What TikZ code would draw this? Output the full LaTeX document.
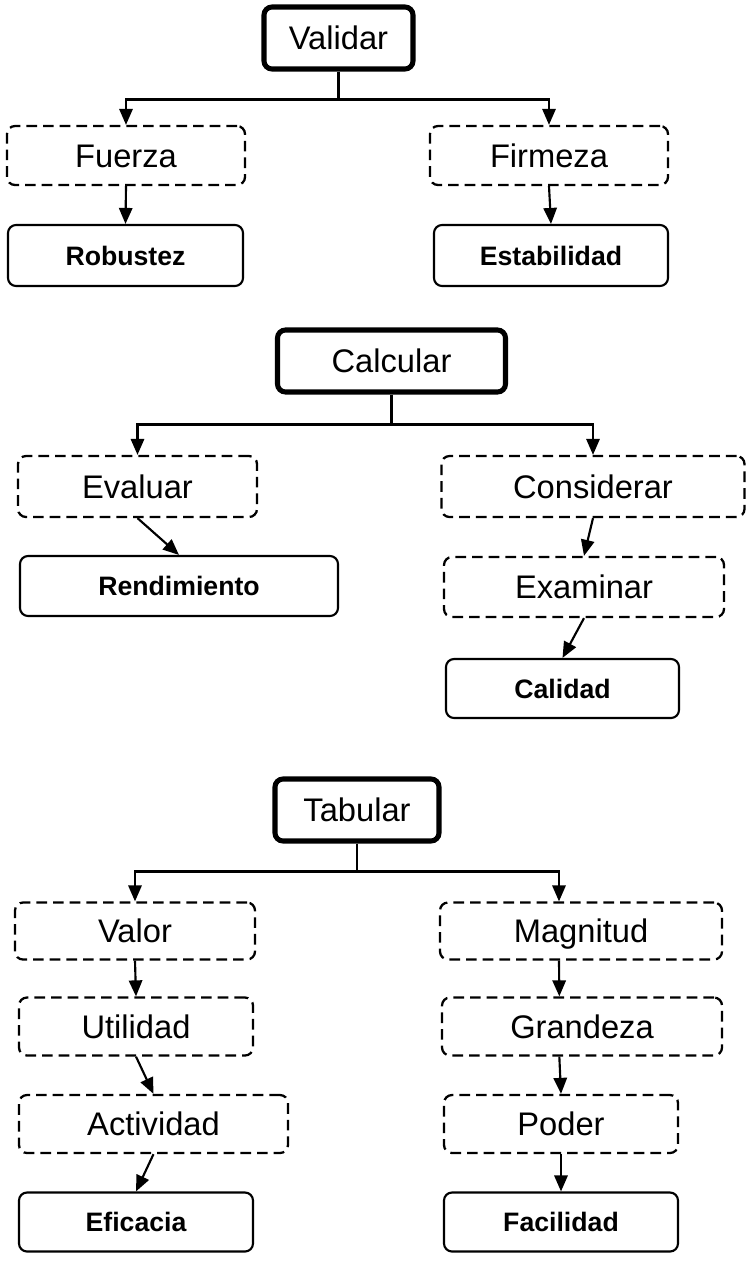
\documentclass[tikz,border=0pt]{standalone}
\usepackage{fontspec}
\setmainfont{Liberation Sans}
\usetikzlibrary{arrows.meta}
\begin{document}
\begin{tikzpicture}[x=0.75pt,y=-0.75pt,
  sz/.style 2 args={minimum width=#1*0.75pt,minimum height=#2*0.75pt},
  base/.style={shape=rectangle,rounded corners=6pt,inner sep=0pt,align=center,text depth=0pt},
  rootbox/.style={base,draw,line width=3.8pt,text height=17.6pt,font=\fontsize{24.5}{28}\selectfont},
  dbox/.style={base,draw,line width=1.7pt,dash pattern=on 8pt off 4.5pt,text height=17.6pt,font=\fontsize{24.5}{28}\selectfont},
  leafbox/.style={base,draw,line width=1.6pt,text height=14.4pt,font=\bfseries\fontsize{20}{24}\selectfont},
  arr/.style={line width=1.6pt,-{Triangle[length=12pt,width=10pt]}}]
\useasboundingbox (0,0) rectangle (747,1275);
% --- Validar
\node[rootbox,sz={149}{62}] (val) at (338.5,38) {Validar};
\node[dbox,sz={238}{59}] (fue) at (126,155.5) {Fuerza};
\node[dbox,sz={238}{59}] (fir) at (549,155.5) {Firmeza};
\node[leafbox,sz={235}{61}] (rob) at (125.5,255.5) {Robustez};
\node[leafbox,sz={234}{61}] (est) at (551,255.5) {Estabilidad};
\draw[arr] (val.south) -- ++(0,28) -| (fue.north);
\draw[arr] (val.south) -- ++(0,28) -| (fir.north);
\draw[arr] (fue.south) -- (rob.north);
\draw[arr] (fir.south) -- (est.north);
% --- Calcular
\node[rootbox,sz={228}{62}] (cal) at (391.5,361) {Calcular};
\node[dbox,sz={239}{61}] (eva) at (137.5,486.5) {Evaluar};
\node[dbox,sz={303}{61}] (con) at (593,486.5) {Considerar};
\node[leafbox,sz={318}{60}] (ren) at (179,586) {Rendimiento};
\node[dbox,sz={280}{60}] (exa) at (584,587) {Examinar};
\node[leafbox,sz={233}{59}] (cad) at (562.5,688.5) {Calidad};
\draw[arr] (cal.south) -- ++(0,30) -| (eva.north);
\draw[arr] (cal.south) -- ++(0,30) -| (con.north);
\draw[arr] (eva.south) -- (ren.north);
\draw[arr] (con.south) -- (exa.north);
\draw[arr] (exa.south) -- (cad.north);
% --- Tabular
\node[rootbox,sz={164}{62}] (tab) at (357,810) {Tabular};
\node[dbox,sz={240}{57}] (vlr) at (135,931) {Valor};
\node[dbox,sz={282}{57}] (mag) at (581,931) {Magnitud};
\node[dbox,sz={234}{58}] (uti) at (136,1026.5) {Utilidad};
\node[dbox,sz={280}{58}] (gra) at (582,1026.5) {Grandeza};
\node[dbox,sz={269}{58}] (act) at (153.5,1124) {Actividad};
\node[dbox,sz={234}{58}] (pod) at (561,1124) {Poder};
\node[leafbox,sz={234}{59}] (efi) at (136,1222) {Eficacia};
\node[leafbox,sz={234}{59}] (fac) at (561,1222) {Facilidad};
\draw[arr] (tab.south) -- ++(0,28) -| ([xshift=-16.5pt]mag.north);
\draw[arr] (tab.south) -- ++(0,28) -| (vlr.north);
\draw[arr] (vlr.south) -- (uti.north);
\draw[arr] ([xshift=-16.5pt]mag.south) -- ([xshift=-17pt]gra.north);
\draw[arr] (uti.south) -- (act.north);
\draw[arr] ([xshift=-17pt]gra.south) -- (pod.north);
\draw[arr] (act.south) -- (efi.north);
\draw[arr] (pod.south) -- (fac.north);
\end{tikzpicture}
\end{document}
